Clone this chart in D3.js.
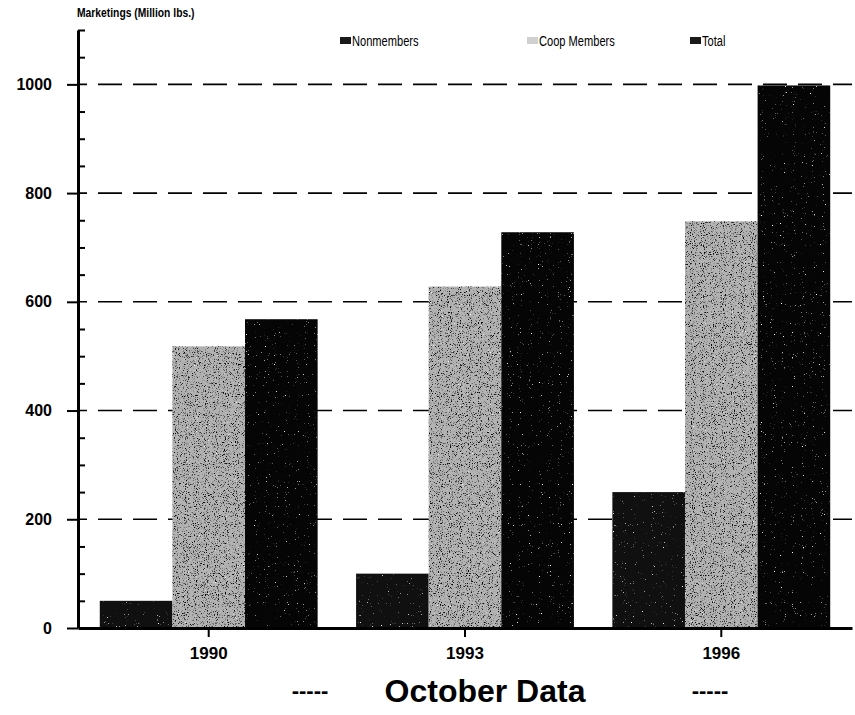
<!DOCTYPE html>
<html>
<head>
<meta charset="utf-8">
<script src="https://cdn.jsdelivr.net/npm/d3@7"></script>
<style>
  body { margin: 0; background: #fff; }
  text { font-family: "Liberation Sans", Arial, sans-serif; fill: #000; }
</style>
</head>
<body>
<svg id="chart" width="855" height="715"></svg>
<script>
// values
var years = ["1990", "1993", "1996"];
var series = ["Nonmembers", "Coop Members", "Total"];
var nonmembers = [50, 100, 250];
var coopMembers = [518, 628, 748];
var total = [568, 728, 998];
var majorTicks = [0, 200, 400, 600, 800, 1000];
var minorTicks = [50, 100, 150, 250, 300, 350, 450, 500, 550, 650, 700, 750, 850, 900, 950, 1050, 1100];

var svg = d3.select("#chart");

var data = years.map(function(yr, i) {
  return {year: yr, values: [nonmembers[i], coopMembers[i], total[i]]};
});

var fills = {"Nonmembers": "#101010", "Coop Members": "#b2b2b2", "Total": "#050505"};

// grain filters to mimic the scanned stipple
var defs = svg.append("defs");
var dark = defs.append("filter").attr("id", "darkDots")
    .attr("filterUnits", "objectBoundingBox").attr("x", 0).attr("y", 0).attr("width", 1).attr("height", 1);
dark.append("feTurbulence").attr("type", "fractalNoise").attr("baseFrequency", 0.9).attr("numOctaves", 2).attr("seed", 4).attr("result", "n");
dark.append("feColorMatrix").attr("in", "n").attr("type", "matrix")
    .attr("values", "0 0 0 0 0  0 0 0 0 0  0 0 0 0 0  -5 0 0 0 2.2").attr("result", "dots");
dark.append("feComposite").attr("in", "dots").attr("in2", "SourceGraphic").attr("operator", "in");

var light = defs.append("filter").attr("id", "lightDots")
    .attr("filterUnits", "objectBoundingBox").attr("x", 0).attr("y", 0).attr("width", 1).attr("height", 1);
light.append("feTurbulence").attr("type", "fractalNoise").attr("baseFrequency", 0.9).attr("numOctaves", 2).attr("seed", 9).attr("result", "n");
light.append("feColorMatrix").attr("in", "n").attr("type", "matrix")
    .attr("values", "0 0 0 0 1  0 0 0 0 1  0 0 0 0 1  7 0 0 0 -5.0").attr("result", "dots");
light.append("feComposite").attr("in", "dots").attr("in2", "SourceGraphic").attr("operator", "in");

var y = d3.scaleLinear().domain([0, 1100]).range([628, 30]);

var x0 = d3.scaleBand()
    .domain(years)
    .range([78, 852])
    .paddingInner(0.15)
    .paddingOuter(0.085);

var x1 = d3.scaleBand()
    .domain(series)
    .range([0, x0.bandwidth()]);

// dashed gridlines
svg.append("g").selectAll("line")
  .data(majorTicks.filter(function(d) { return d > 0; }))
  .enter().append("line")
    .attr("x1", 78).attr("x2", 852)
    .attr("y1", function(d) { return y(d); })
    .attr("y2", function(d) { return y(d); })
    .attr("stroke", "#000")
    .attr("stroke-width", 1.6)
    .attr("stroke-dasharray", "24,11")
    .attr("stroke-dashoffset", -20);

// bars
var group = svg.append("g").selectAll("g")
  .data(data)
  .enter().append("g")
    .attr("transform", function(d) { return "translate(" + x0(d.year) + ",0)"; });

var cells = group.selectAll("g")
  .data(function(d) { return d.values.map(function(v, i) { return {key: series[i], value: v}; }); })
  .enter().append("g");

cells.append("rect")
    .attr("x", function(d) { return x1(d.key); })
    .attr("y", function(d) { return y(d.value); })
    .attr("width", x1.bandwidth())
    .attr("height", function(d) { return y(0) - y(d.value); })
    .attr("fill", function(d) { return fills[d.key]; });

// stipple overlays
cells.filter(function(d) { return d.key === "Coop Members"; }).append("rect")
    .attr("x", function(d) { return x1(d.key); })
    .attr("y", function(d) { return y(d.value); })
    .attr("width", x1.bandwidth())
    .attr("height", function(d) { return y(0) - y(d.value); })
    .attr("fill", "#000")
    .attr("filter", "url(#darkDots)");

cells.append("rect")
    .attr("x", function(d) { return x1(d.key); })
    .attr("y", function(d) { return y(d.value); })
    .attr("width", x1.bandwidth())
    .attr("height", function(d) { return y(0) - y(d.value); })
    .attr("fill", "#fff")
    .attr("filter", "url(#lightDots)");

// y axis
var yAxis = svg.append("g")
    .attr("transform", "translate(78,0)")
    .call(d3.axisLeft(y).tickValues(majorTicks).tickFormat(d3.format("d")).tickSize(11).tickSizeOuter(0).tickPadding(15));
yAxis.select(".domain").attr("stroke-width", 3);
yAxis.selectAll(".tick line").attr("stroke-width", 2);
yAxis.selectAll("text").style("font-size", "16px").style("font-weight", "bold");

var yMinor = svg.append("g")
    .attr("transform", "translate(78,0)")
    .call(d3.axisLeft(y).tickValues(minorTicks).tickSize(-7).tickFormat(""));
yMinor.select(".domain").remove();
yMinor.selectAll(".tick line").attr("stroke-width", 2);

// x axis
var xAxis = svg.append("g")
    .attr("transform", "translate(0,628)")
    .call(d3.axisBottom(x0).tickSize(9).tickSizeOuter(0).tickPadding(10));
xAxis.select(".domain").attr("stroke-width", 3);
xAxis.selectAll(".tick line").attr("stroke-width", 2);
xAxis.selectAll("text").style("font-size", "17px").style("font-weight", "bold");

// axis title (narrowed to match the condensed face)
svg.append("text")
    .attr("transform", "translate(77,17) scale(0.86,1)")
    .style("font-size", "12px").style("font-weight", "bold")
    .text("Marketings (Million lbs.)");

// legend
var legendX = [340, 527, 690];
var legend = svg.append("g").selectAll("g")
  .data(series)
  .enter().append("g")
    .attr("transform", function(d, i) { return "translate(" + legendX[i] + ",41)"; });

legend.append("rect")
    .attr("x", 0).attr("y", -4)
    .attr("width", 11).attr("height", 7)
    .attr("fill", function(d) { return d === "Coop Members" ? "#d0d0d0" : "#1a1a1a"; });

legend.append("text")
    .attr("transform", "translate(12,0) scale(0.74,1)")
    .attr("dy", "0.35em")
    .style("font-size", "15px")
    .text(function(d) { return d; });

// bottom caption
svg.append("text")
    .attr("x", 485).attr("y", 702)
    .attr("text-anchor", "middle")
    .style("font-size", "32px").style("font-weight", "bold")
    .text("October Data");

svg.append("text")
    .attr("x", 310).attr("y", 698)
    .attr("text-anchor", "middle")
    .style("font-size", "22px").style("font-weight", "bold")
    .text("-----");

svg.append("text")
    .attr("x", 710).attr("y", 698)
    .attr("text-anchor", "middle")
    .style("font-size", "22px").style("font-weight", "bold")
    .text("-----");
</script>
</body>
</html>
